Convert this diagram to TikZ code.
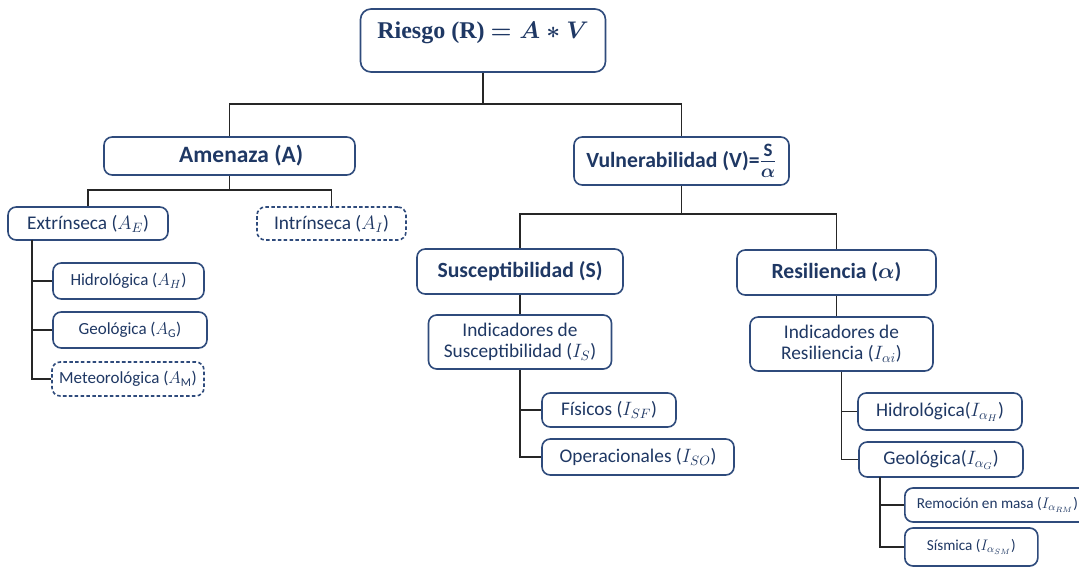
\RequirePackage{fix-cm}
\documentclass[tikz,border=0pt]{standalone}
\usepackage{amsmath}
\usepackage{fontspec}
\setmainfont{Carlito}
\newfontfamily\serifhead{Liberation Serif}
\definecolor{navy}{HTML}{1F3864}
\definecolor{edge}{HTML}{2F4B7C}
\begin{document}
\begin{tikzpicture}[x=0.03cm,y=-0.03cm,
  box/.style={draw=edge, line width=1.4pt, rounded corners=7pt, text=navy,
    align=center, inner sep=0pt, fill=white},
  dbox/.style={box, dash pattern=on 3pt off 2pt},
  sz/.style 2 args={minimum width={#1*0.03cm}, minimum height={#2*0.03cm}},
  link/.style={draw=black!85, line width=1.6pt},
  fhead/.style={font=\fontsize{18.5}{22}\selectfont\bfseries},
  fmain/.style={font=\fontsize{16.5}{18}\selectfont},
  fsmall/.style={font=\fontsize{14.5}{17}\selectfont},
  ftiny/.style={font=\fontsize{13}{16}\selectfont}]
\useasboundingbox (0,0) rectangle (1079,567);
\fill[white] (0,0) rectangle (1079,567);
\clip (0,0) rectangle (1079,567);

% top of the tree
\node[box, rounded corners=9pt, sz={245}{63}, text height=24pt, text depth=28pt,
  font=\serifhead\bfseries\fontsize{20.5}{24}\selectfont] (R) at (483,40.5)
  {Riesgo (R) {\boldmath$= A \ast V$}};
\node[box,font=\fontsize{20}{22}\selectfont\bfseries,sz={251}{38}] (amen) at (229.5,156)
  {\hspace*{0.7cm}Amenaza (A)};
\node[box,fhead,sz={215}{48}] (vuln) at (681.5,161)
  {Vulnerabilidad (V)={\fontsize{23}{23}\selectfont\boldmath$\frac{\mathrm{S}}{\alpha}$}};

% hazard branch
\node[box,fmain,sz={160}{33}] (ext) at (88,223.5) {Extrínseca ($A_E$)};
\node[dbox,fmain,sz={149}{33}] (intr) at (331.5,223.5) {Intrínseca ($A_I$)};
\node[box,fsmall,sz={151}{36}] (hid) at (128.5,281) {Hidrológica ($A_H$)};
\node[box,fsmall,sz={154}{36}] (geo) at (130,330) {Geológica ($A_{\mathrm{G}}$)};
\node[dbox,fsmall,sz={152}{34}] (met) at (128,379) {Meteorológica ($A_{\mathrm{M}}$)};

% vulnerability branch
\node[box,fhead,sz={206}{45}] (sus) at (520,271.5) {Susceptibilidad (S)};
\node[box,fhead,sz={199}{45}] (res) at (836.5,272.5) {Resiliencia ({\boldmath$\alpha$})};
\node[box,fmain,sz={183}{54}] (IS) at (520,342) {Indicadores de\\Susceptibilidad ($I_S$)};
\node[box,fmain,sz={183}{54}] (IR) at (841.5,344) {Indicadores de\\Resiliencia ($I_{\alpha i}$)};
\node[box,fmain,sz={134}{34}] (fis) at (609,410) {Físicos ($I_{SF}$)};
\node[box,fmain,sz={192}{36}] (ope) at (638,457) {Operacionales ($I_{SO}$)};
\node[box,fmain,sz={164}{37}] (hidR) at (940,411.5) {Hidrológica($I_{\alpha_H}$)};
\node[box,fmain,sz={164}{35}] (geoR) at (941,459.5) {Geológica($I_{\alpha_G}$)};
\node[box,ftiny,minimum height={34*0.03cm},inner xsep={12*0.03cm},anchor=west]
  (rem) at (904,505) {Remoción en masa ($I_{\alpha_{RM}}$)};
\node[box,ftiny,sz={133}{38},anchor=west] (sis) at (904,547) {Sísmica ($I_{\alpha_{SM}}$)};

% junctions
\coordinate (j0) at (483,104);
\coordinate (j1) at (229.5,190);
\coordinate (j2) at (681.5,214);
\coordinate (e0) at (32,240);
\coordinate (g0) at (880,477);

% connectors
\draw[link] (R.south) -- (j0);
\draw[link] (amen.north) |- (j0) -| (vuln.north);
\draw[link] (amen.south) -- (j1);
\draw[link] (ext.north) |- (j1) -| (intr.north);
\draw[link] (e0) |- (hid.west);
\draw[link] (e0) |- (geo.west);
\draw[link] (e0) |- (met.west);
\draw[link] (vuln.south) -- (j2);
\draw[link] (sus.north) |- (j2) -| (res.north);
\draw[link] (sus.south) -- (IS.north);
\draw[link] (res.south) -- (res.south |- IR.north);
\draw[link] (IS.south) |- (fis.west);
\draw[link] (IS.south) |- (ope.west);
\draw[link] (IR.south) |- (hidR.west);
\draw[link] (IR.south) |- (geoR.west);
\draw[link] (g0) |- (rem.west);
\draw[link] (g0) |- (sis.west);
\end{tikzpicture}
\end{document}
